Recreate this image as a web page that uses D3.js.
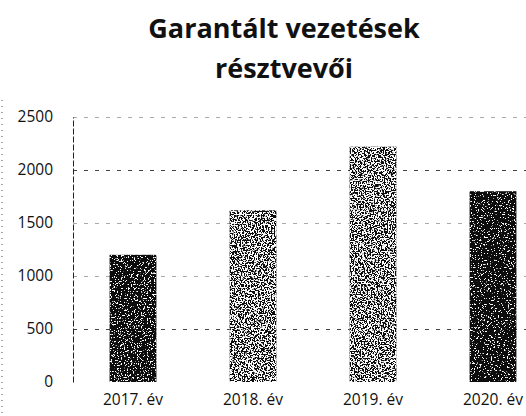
<!DOCTYPE html>
<html lang="hu">
<head>
<meta charset="utf-8">
<title>Garantált vezetések résztvevői</title>
<script src="https://d3js.org/d3.v7.min.js"></script>
<style>
  body { margin: 0; background: #fff; }
  svg { display: block; }
</style>
</head>
<body>
<div id="chart"></div>
<script>
// data
var years = ["2017. év", "2018. év", "2019. év", "2020. év"];
var participants = [1200, 1620, 2220, 1800];
var yTicks = [0, 500, 1000, 1500, 2000, 2500];
var titleLines = ["Garantált vezetések", "résztvevői"];

var width = 526, height = 416;
var plot = { left: 73, right: 553, top: 117, bottom: 382 };
var font = "'Open Sans', Lato, sans-serif";

var svg = d3.select("#chart").append("svg")
    .attr("width", width)
    .attr("height", height);

// speckled fill like the scanned bars
var defs = svg.append("defs");
var grain = [0.6, 0.48, 0.48, 0.62];
grain.forEach(function (t, i) {
    var f = defs.append("filter")
        .attr("id", "speckle" + i)
        .attr("x", 0).attr("y", 0).attr("width", 1).attr("height", 1);
    f.append("feTurbulence")
        .attr("type", "fractalNoise")
        .attr("baseFrequency", 0.7)
        .attr("numOctaves", 2)
        .attr("seed", i + 2)
        .attr("result", "noise");
    f.append("feColorMatrix")
        .attr("in", "noise")
        .attr("type", "matrix")
        .attr("values", "0 0 0 0 1  0 0 0 0 1  0 0 0 0 1  18 0 0 0 " + (-18 * t))
        .attr("result", "white");
    f.append("feComposite")
        .attr("in", "white").attr("in2", "SourceGraphic")
        .attr("operator", "in").attr("result", "spots");
    var m = f.append("feMerge");
    m.append("feMergeNode").attr("in", "SourceGraphic");
    m.append("feMergeNode").attr("in", "spots");
});

var x = d3.scaleBand()
    .domain(years)
    .range([plot.left, plot.right])
    .paddingInner(0.61)
    .paddingOuter(0.305);

var y = d3.scaleLinear()
    .domain([0, 2500])
    .range([plot.bottom, plot.top]);

// scanner frame edge on the left
svg.append("line")
    .attr("x1", 2).attr("x2", 2)
    .attr("y1", 100).attr("y2", height)
    .attr("stroke", "#555")
    .attr("stroke-dasharray", "1,5");

// gridlines
svg.append("g")
    .selectAll("line")
    .data(yTicks.filter(function (d) { return d > 0; }))
    .enter()
    .append("line")
    .attr("x1", plot.left)
    .attr("x2", plot.right)
    .attr("y1", function (d) { return Math.round(y(d)) + 0.5; })
    .attr("y2", function (d) { return Math.round(y(d)) + 0.5; })
    .attr("stroke", function (d) { return (d === 500 || d === 2000) ? "#444" : "#aaa"; })
    .attr("stroke-width", 1)
    .attr("stroke-dasharray", "4,7");

// y axis
var yAxis = svg.append("g")
    .attr("transform", "translate(" + plot.left + ",0)")
    .call(d3.axisLeft(y).tickValues(yTicks).tickFormat(d3.format("d")).tickSize(0).tickPadding(20));
yAxis.select(".domain")
    .attr("stroke", "#222")
    .attr("stroke-dasharray", "6,2");
yAxis.selectAll("text")
    .attr("font-family", font)
    .attr("font-size", 15.5)
    .attr("fill", "#111");

// bars
svg.append("g")
    .selectAll("rect")
    .data(participants)
    .enter()
    .append("rect")
    .attr("x", function (d, i) { return x(years[i]); })
    .attr("y", function (d) { return y(d); })
    .attr("width", x.bandwidth())
    .attr("height", function (d) { return y(0) - y(d); })
    .attr("fill", "#111")
    .attr("filter", function (d, i) { return "url(#speckle" + i + ")"; });

// x axis labels
var xAxis = svg.append("g")
    .attr("transform", "translate(0," + plot.bottom + ")")
    .call(d3.axisBottom(x).tickSize(0).tickPadding(12));
xAxis.select(".domain").remove();
xAxis.selectAll("text")
    .attr("font-family", font)
    .attr("font-size", 15.5)
    .attr("fill", "#111");

// title
svg.append("text")
    .attr("x", 284)
    .attr("y", 38)
    .attr("text-anchor", "middle")
    .attr("font-family", font)
    .attr("font-weight", "bold")
    .attr("font-size", 27)
    .attr("fill", "#111")
    .selectAll("tspan")
    .data(titleLines)
    .enter()
    .append("tspan")
    .attr("x", 284)
    .attr("dy", function (d, i) { return i === 0 ? 0 : 40; })
    .text(function (d) { return d; });
</script>
</body>
</html>
